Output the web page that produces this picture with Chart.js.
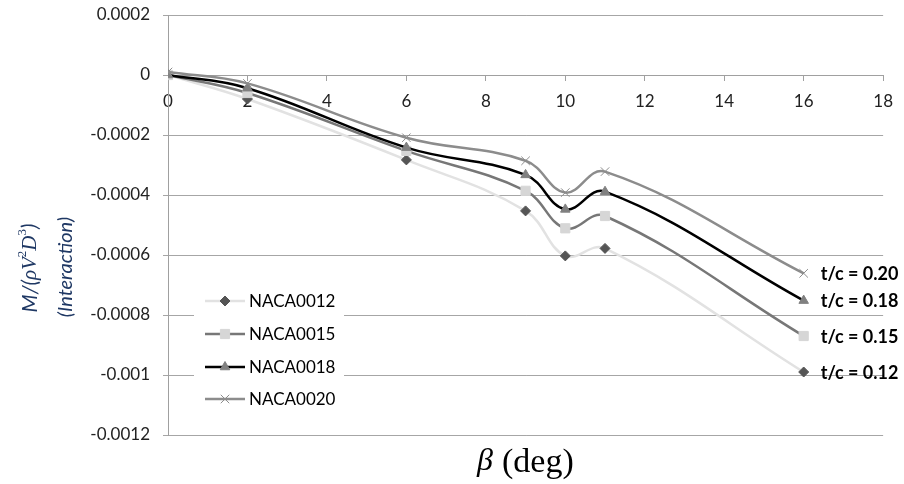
<!DOCTYPE html>
<html>
<head>
<meta charset="utf-8">
<script src="https://cdn.jsdelivr.net/npm/chart.js@4.4.0/dist/chart.umd.min.js"></script>
<style>
  body { margin: 0; background: #fff; }
  canvas { display: block; }
</style>
</head>
<body>
<canvas id="momentChart" width="904" height="484"></canvas>
<script>
// yaw angle beta (deg) and interaction moment coefficient per section
const beta = [0, 2, 6, 9, 10, 11, 16];
const naca0012 = [0, -0.00008, -0.000283, -0.000453, -0.000603, -0.000578, -0.00099];
const naca0015 = [0, -0.00006, -0.000253, -0.000386, -0.000511, -0.00047, -0.00087];
const naca0018 = [0, -0.000044, -0.000242, -0.000333, -0.000448, -0.000389, -0.000752];
const naca0020 = [0.00001, -0.000028, -0.000209, -0.000286, -0.000392, -0.000322, -0.000661];

const seriesNames = ["NACA0012", "NACA0015", "NACA0018", "NACA0020"];
const thicknessLabels = ["t/c = 0.12", "t/c = 0.15", "t/c = 0.18", "t/c = 0.20"];

const toPoints = (values) => beta.map((b, i) => ({ x: b, y: values[i] }));

const ctx = document.getElementById("momentChart").getContext("2d");

// little marker helper for the legend
const drawMarker = (c, ds, x, y) => {
  c.save();
  c.fillStyle = ds.pointBackgroundColor;
  c.strokeStyle = ds.pointBorderColor;
  c.lineWidth = ds.pointBorderWidth;
  Chart.helpers.drawPoint(c, {
    pointStyle: ds.pointStyle,
    radius: ds.pointRadius,
    rotation: 0,
    borderWidth: ds.pointBorderWidth,
  }, x, y);
  c.restore();
};

const overlayText = {
  id: "overlayText",
  afterDatasetsDraw(chart) {
    const c = chart.ctx;
    // t/c labels next to the last point of each curve
    c.save();
    c.font = "bold 18px Lato";
    c.fillStyle = "#000";
    c.textAlign = "left";
    c.textBaseline = "middle";
    chart.data.datasets.forEach((ds, i) => {
      const pts = chart.getDatasetMeta(i).data;
      const last = pts[pts.length - 1];
      c.fillText(thicknessLabels[i], last.x + 17, last.y + 1);
    });
    c.restore();
  },
  afterDraw(chart) {
    const c = chart.ctx;

    // legend box inside the plot
    c.save();
    c.fillStyle = "#fff";
    c.fillRect(194, 286, 150, 128);
    const rowY = [301, 334, 367, 399];
    chart.data.datasets.forEach((ds, i) => {
      const y = rowY[i];
      c.strokeStyle = ds.borderColor;
      c.lineWidth = ds.borderWidth;
      c.beginPath();
      c.moveTo(205, y);
      c.lineTo(245, y);
      c.stroke();
      drawMarker(c, ds, 225, y);
      c.font = "17px Lato";
      c.fillStyle = "#000";
      c.textAlign = "left";
      c.textBaseline = "middle";
      c.fillText(seriesNames[i], 249, y + 1);
    });
    c.restore();

    // x axis title
    c.save();
    c.fillStyle = "#000";
    c.textBaseline = "alphabetic";
    c.font = "italic 32px 'Liberation Serif'";
    c.fillText("\u03B2", 477, 470);
    c.font = "34px 'Liberation Serif'";
    c.fillText("(deg)", 502, 472);
    c.restore();

    // y axis title, two rotated lines
    c.save();
    c.fillStyle = "#1f3864";
    c.textBaseline = "middle";
    c.translate(30, 268);
    c.rotate(-Math.PI / 2);
    const parts = [
      ["italic 21px Lato", "M/(", 0],
      ["italic 21px 'Liberation Serif'", "\u03C1V", 0],
      ["13px 'Liberation Serif'", "2", -7],
      ["italic 21px 'Liberation Serif'", "D", 0],
      ["13px 'Liberation Serif'", "3", -7],
      ["italic 21px Lato", ")", 0],
    ];
    let total = 0;
    parts.forEach(([f, t]) => { c.font = f; total += c.measureText(t).width; });
    let px = -total / 2;
    parts.forEach(([f, t, dy]) => {
      c.font = f;
      c.fillText(t, px, dy);
      px += c.measureText(t).width;
    });
    c.restore();

    c.save();
    c.fillStyle = "#1f3864";
    c.textAlign = "center";
    c.textBaseline = "middle";
    c.translate(66, 267);
    c.rotate(-Math.PI / 2);
    c.font = "italic 20px Lato";
    c.fillText("(Interaction)", 0, 0);
    c.restore();
  },
};

const momentChart = new Chart(ctx, {
  type: "line",
  data: {
    datasets: [
      {
        label: seriesNames[0],
        data: toPoints(naca0012),
        borderColor: "#e2e2e2",
        borderWidth: 2.5,
        pointStyle: "rectRot",
        pointRadius: 5,
        pointBackgroundColor: "#555555",
        pointBorderColor: "#555555",
        pointBorderWidth: 1,
        order: 4,
      },
      {
        label: seriesNames[1],
        data: toPoints(naca0015),
        borderColor: "#777777",
        borderWidth: 2.5,
        pointStyle: "rect",
        pointRadius: 6.5,
        pointBackgroundColor: "#d6d6d6",
        pointBorderColor: "#d6d6d6",
        pointBorderWidth: 1,
        order: 3,
      },
      {
        label: seriesNames[2],
        data: toPoints(naca0018),
        borderColor: "#000000",
        borderWidth: 2.5,
        pointStyle: "triangle",
        pointRadius: 5.5,
        pointBackgroundColor: "#808080",
        pointBorderColor: "#808080",
        pointBorderWidth: 1,
        order: 2,
      },
      {
        label: seriesNames[3],
        data: toPoints(naca0020),
        borderColor: "#8c8c8c",
        borderWidth: 2.5,
        pointStyle: "crossRot",
        pointRadius: 6,
        pointBackgroundColor: "#8c8c8c",
        pointBorderColor: "#8c8c8c",
        pointBorderWidth: 1,
        order: 1,
      },
    ],
  },
  options: {
    responsive: false,
    animation: false,
    layout: { padding: { top: 15, right: 18, bottom: 49, left: 0 } },
    elements: { line: { tension: 0.4 } },
    plugins: {
      legend: { display: false },
      tooltip: { enabled: false },
    },
    scales: {
      x: {
        type: "linear",
        position: { y: 0 },
        min: 0,
        max: 18,
        afterFit(scale) {
          scale.paddingTop = 0;
          scale.paddingBottom = 0;
        },
        ticks: {
          stepSize: 2,
          padding: 11,
          color: "#222",
          font: { family: "Lato", size: 17 },
        },
        grid: {
          drawOnChartArea: false,
          drawTicks: true,
          tickLength: 5,
          color: "#a0a0a0",
        },
        border: { color: "#a0a0a0" },
      },
      y: {
        min: -0.0012,
        max: 0.0002,
        afterFit(scale) {
          scale.width = 168;
          scale.paddingTop = 0;
          scale.paddingBottom = 0;
        },
        ticks: {
          stepSize: 0.0002,
          padding: 13,
          color: "#222",
          font: { family: "Lato", size: 17 },
          callback: (v) => String(Number(Number(v).toFixed(4)) || 0),
        },
        grid: {
          color: "#a6a6a6",
          tickLength: 5,
        },
        border: { color: "#a0a0a0" },
      },
    },
  },
  plugins: [overlayText],
});
</script>
</body>
</html>
